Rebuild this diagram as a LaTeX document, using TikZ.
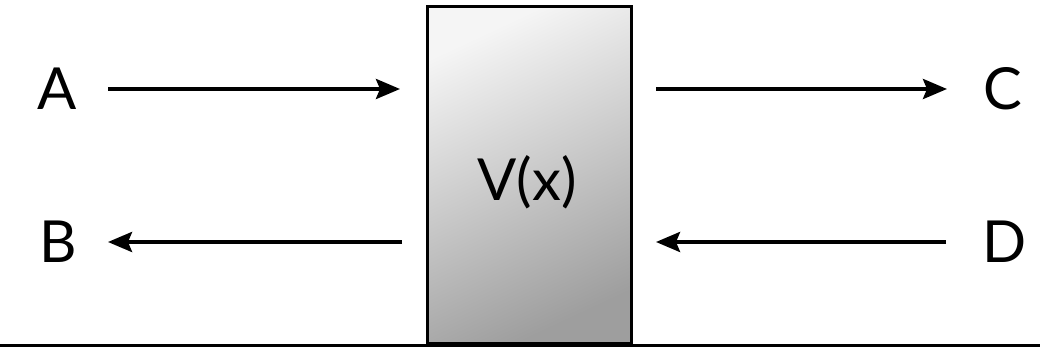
\documentclass[tikz,border=0pt]{standalone}
\usepackage{fontspec}
\setmainfont{Lato}
\usetikzlibrary{arrows.meta}
\begin{document}
\begin{tikzpicture}[x=1pt,y=1pt,
  lbl/.style={font=\fontsize{58}{60}\selectfont, inner sep=0pt, anchor=center},
  flow/.style={line width=3.8pt, -{Stealth[length=24pt,width=20pt,inset=4pt]}},
  wall/.style={draw=black, line width=3pt, top color=black!4, bottom color=black!38, shading angle=25}]
\useasboundingbox (0,0) rectangle (1040,348);
\node[wall, minimum width=204pt, minimum height=336pt, inner sep=0pt] (box) at (529,173) {};
\node[lbl] (v) at (527,166) {V(x)};
\node[lbl] (a) at (57,259) {A};
\node[lbl] (b) at (58,106) {B};
\node[lbl] (c) at (1003,259) {C};
\node[lbl] (d) at (1005,106) {D};
\coordinate (a1) at (108,259);
\coordinate (a2) at (400,259);
\coordinate (b1) at (402,106);
\coordinate (b2) at (108,106);
\coordinate (c1) at (656,259);
\coordinate (c2) at (947,259);
\coordinate (d1) at (946,106);
\coordinate (d2) at (656,106);
\draw[flow] (a1) -- (a2);
\draw[flow] (b1) -- (b2);
\draw[flow] (c1) -- (c2);
\draw[flow] (d1) -- (d2);
\coordinate (g1) at (0,3);
\coordinate (g2) at (1040,3);
\draw[line width=3pt] (g1) -- (g2);
\end{tikzpicture}
\end{document}
